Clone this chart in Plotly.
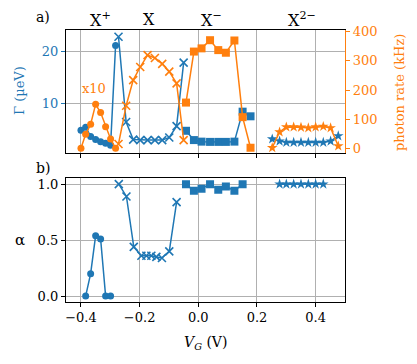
import plotly.graph_objects as go

# cores padrao matplotlib
azul = '#1f77b4'
laranja = '#ff7f0e'
cinza = '#b0b0b0'
fonte = 'DejaVu Serif'

# X+ (circulos)
vg_xp = [-0.400, -0.384, -0.367, -0.350, -0.333, -0.316, -0.299, -0.282]
gamma_xp = [4.8, 5.4, 3.6, 3.0, 2.6, 2.3, 1.9, 21.2]
rate_xp = [0, 48, 83, 151, 123, 74, 32, 0]
vg_alpha_xp = [-0.384, -0.367, -0.350, -0.333, -0.316, -0.299]
alpha_xp = [0.0, 0.20, 0.54, 0.51, 0.0, 0.0]

# X (cruzes)
vg_x = [-0.272, -0.246, -0.222, -0.198, -0.173, -0.148, -0.123, -0.099, -0.074, -0.050]
gamma_x = [22.9, 6.4, 3.0, 2.9, 2.9, 2.9, 2.9, 3.4, 5.6, 17.9]
rate_x = [15, 146, 234, 279, 320, 310, 290, 263, 223, 28]
vg_alpha_x = [-0.271, -0.245, -0.220, -0.194, -0.177, -0.160, -0.143, -0.124, -0.099, -0.074]
alpha_x = [1.0, 0.89, 0.44, 0.36, 0.36, 0.36, 0.35, 0.34, 0.40, 0.84]

# X- (quadrados)
vg_xm = [-0.042, -0.015, 0.011, 0.040, 0.068, 0.094, 0.123, 0.151, 0.178]
gamma_xm = [4.7, 2.9, 2.6, 2.55, 2.55, 2.55, 2.6, 8.4, 7.5]
rate_xm = [157, 332, 343, 371, 337, 328, 370, 107, 2]
vg_alpha_xm = [-0.042, -0.015, 0.011, 0.040, 0.068, 0.094, 0.123, 0.151]
alpha_xm = [1.0, 0.94, 0.96, 1.0, 0.95, 0.98, 0.94, 1.0]

# X2- (estrelas)
vg_x2m = [0.252, 0.277, 0.300, 0.325, 0.350, 0.375, 0.400, 0.426, 0.451, 0.477]
gamma_x2m = [3.1, 2.7, 2.45, 2.45, 2.45, 2.45, 2.45, 2.45, 2.7, 3.7]
rate_x2m = [2, 56, 73, 73, 72, 70, 73, 75, 70, 8]
vg_alpha_x2m = [0.277, 0.300, 0.325, 0.350, 0.375, 0.400, 0.426]
alpha_x2m = [1.0, 1.0, 1.0, 1.0, 1.0, 1.0, 1.0]

x_ticks = [-0.4, -0.2, 0.0, 0.2, 0.4]
gamma_ticks = [10, 20]
rate_ticks = [0, 100, 200, 300, 400]
alpha_ticks = [0.0, 0.5, 1.0]

# a pagina tem margem de 8px no body, entao a figura fica menor e deslocada
OFF = 8
W, H = 417 - OFF, 364 - OFF


def px(v):
    return (v - OFF) / W


def py(v):
    return 1 - (v - OFF) / H


def marcador(simbolo, cor):
    if simbolo == 'x-thin':
        return dict(symbol=simbolo, size=8, color=cor, line=dict(color=cor, width=1.6))
    tam = {'circle': 7, 'square': 8, 'star': 8}[simbolo]
    return dict(symbol=simbolo, size=tam, color=cor, line=dict(width=0))


def texto(fig, t, x, y, tam, cor='black', angulo=0, xref='paper', yref='paper'):
    fig.add_annotation(text=t, x=x, y=y, xref=xref, yref=yref, showarrow=False,
                       xanchor='center', yanchor='middle', textangle=angulo,
                       font=dict(size=tam, color=cor))


fig = go.Figure()

series = [
    (vg_xp, gamma_xp, rate_xp, vg_alpha_xp, alpha_xp, 'circle'),
    (vg_x, gamma_x, rate_x, vg_alpha_x, alpha_x, 'x-thin'),
    (vg_xm, gamma_xm, rate_xm, vg_alpha_xm, alpha_xm, 'square'),
    (vg_x2m, gamma_x2m, rate_x2m, vg_alpha_x2m, alpha_x2m, 'star'),
]

for vg, gam, rate, vga, alp, simb in series:
    fig.add_trace(go.Scatter(x=vg, y=gam, mode='lines+markers',
                             line=dict(color=azul, width=1.5),
                             marker=marcador(simb, azul),
                             xaxis='x', yaxis='y', showlegend=False))
for vg, gam, rate, vga, alp, simb in series:
    fig.add_trace(go.Scatter(x=vg, y=rate, mode='lines+markers',
                             line=dict(color=laranja, width=1.5),
                             marker=marcador(simb, laranja),
                             xaxis='x', yaxis='y2', showlegend=False))
for vg, gam, rate, vga, alp, simb in series:
    fig.add_trace(go.Scatter(x=vga, y=alp, mode='lines+markers',
                             line=dict(color=azul, width=1.5),
                             marker=marcador(simb, azul),
                             xaxis='x2', yaxis='y3', showlegend=False))

dom_x = [px(66), px(345)]
eixo_comum = dict(ticks='outside', ticklen=4, tickwidth=1, showline=True, automargin=False,
                  linewidth=1.2, zeroline=False, gridwidth=1.3, gridcolor=cinza)

fig.update_layout(
    width=W, height=H,
    margin=dict(l=0, r=0, t=0, b=0, autoexpand=False),
    paper_bgcolor='white', plot_bgcolor='white',
    font=dict(family=fonte, size=13, color='black'),
    xaxis=dict(domain=dom_x, anchor='y', range=[-0.451, 0.5], tickvals=x_ticks,
               showticklabels=False, showgrid=True, linecolor='black', mirror=True,
               tickcolor='black', **eixo_comum),
    yaxis=dict(domain=[py(153), py(30)], anchor='x', range=[0.4, 24.2], tickvals=gamma_ticks,
               showgrid=True, linecolor='black', tickcolor=azul,
               tickfont=dict(color=azul), **eixo_comum),
    yaxis2=dict(overlaying='y', side='right', anchor='x', range=[-16, 406], tickvals=rate_ticks,
                showgrid=False, linecolor=laranja, tickcolor=laranja,
                tickfont=dict(color=laranja), **eixo_comum),
    xaxis2=dict(domain=dom_x, anchor='y3', range=[-0.451, 0.5], tickvals=x_ticks,
                tickformat='.1f', showgrid=True, linecolor='black', mirror=True,
                tickcolor='black', **eixo_comum),
    yaxis3=dict(domain=[py(301.7), py(178)], anchor='x2', range=[-0.05, 1.055],
                tickvals=alpha_ticks, tickformat='.1f', showgrid=True, linecolor='black',
                mirror=True, tickcolor='black', **eixo_comum),
)

# rotulos das especies
for t, xv in [('X<sup>+</sup>', -0.335), ('X', -0.167), ('X<sup>−</sup>', 0.045),
              ('X<sup>2−</sup>', 0.352)]:
    texto(fig, t, xv, py(19), 16, xref='x')

texto(fig, 'x10', -0.356, 12.9, 13, laranja, xref='x', yref='y')

# letras dos paineis
texto(fig, 'a)', px(43), py(17), 14)
texto(fig, 'b)', px(43), py(168), 14)

# titulos dos eixos
texto(fig, 'Γ (µeV)', px(20), py(91), 13, azul, -90)
texto(fig, 'photon rate (kHz)', px(400), py(93), 13, laranja, -90)
texto(fig, 'α', px(20), py(240), 15)
texto(fig, '<i>V<sub>G</sub></i> (V)', px(205.5), py(343), 14)

fig.write_html("out.html")
